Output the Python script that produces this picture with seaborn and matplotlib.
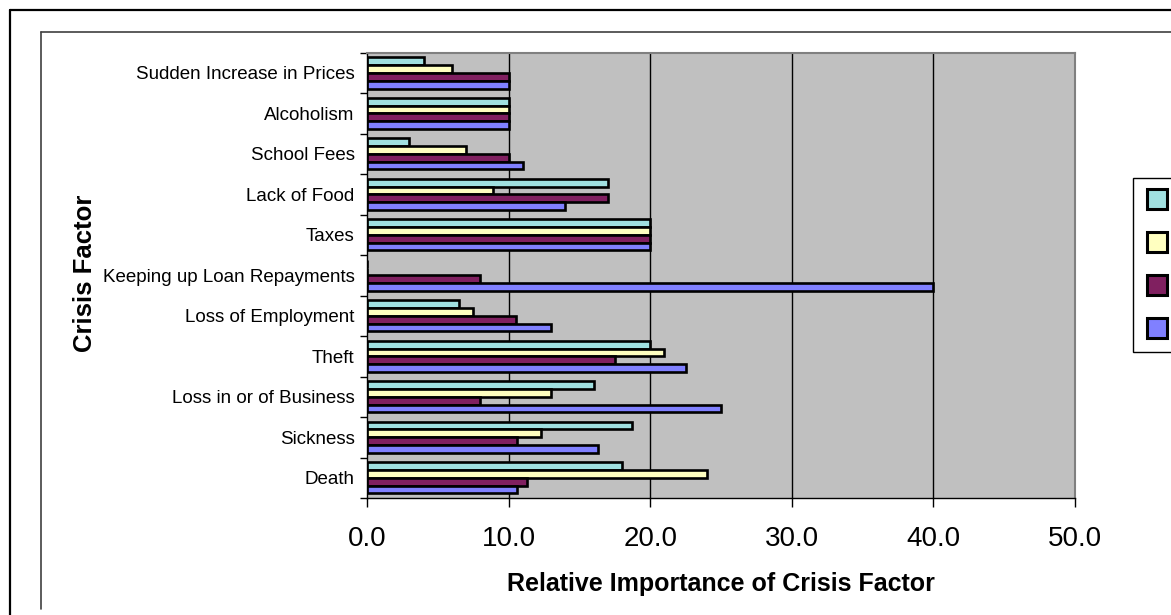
import matplotlib
matplotlib.use("Agg")
import matplotlib.pyplot as plt
from matplotlib.lines import Line2D
import numpy as np
import pandas as pd
import seaborn as sns

# Crisis factors, listed top to bottom
factors = [
    "Sudden Increase in Prices",
    "Alcoholism",
    "School Fees",
    "Lack of Food",
    "Taxes",
    "Keeping up Loan Repayments",
    "Loss of Employment",
    "Theft",
    "Loss in or of Business",
    "Sickness",
    "Death",
]

series_names = ["1998", "1999", "2000", "2001"]

# Relative importance of each factor, one list per series
series_a = [4.0, 10.0, 3.0, 17.0, 20.0, 0.0, 6.5, 20.0, 16.0, 18.7, 18.0]
series_b = [6.0, 10.0, 7.0, 8.9, 20.0, 0.0, 7.5, 21.0, 13.0, 12.3, 24.0]
series_c = [10.0, 10.0, 10.0, 17.0, 20.0, 8.0, 10.5, 17.5, 8.0, 10.6, 11.3]
series_d = [10.0, 10.0, 11.0, 14.0, 20.0, 40.0, 13.0, 22.5, 25.0, 16.3, 10.6]

x_ticks = [0, 10, 20, 30, 40, 50]
x_tick_labels = ["0.0", "10.0", "20.0", "30.0", "40.0", "50.0"]

colors = ["#A0E0E0", "#FFFFC0", "#802060", "#8080FF"]

rows = []
for name, vals in zip(series_names, [series_a, series_b, series_c, series_d]):
    for f, v in zip(factors, vals):
        rows.append({"Crisis Factor": f, "Series": name, "Value": v})
df = pd.DataFrame(rows)

sns.set_theme(style="white")
plt.rcParams["font.family"] = ["Liberation Sans", "DejaVu Sans"]

W, H = 1171, 615
fig = plt.figure(figsize=(W / 100, H / 100), dpi=100)
fig.patch.set_facecolor("white")

ax_left, ax_right = 367 / W, 1075 / W
ax_top, ax_bottom = 1 - 52.7 / H, 1 - 498 / H
ax = fig.add_axes([ax_left, ax_bottom, ax_right - ax_left, ax_top - ax_bottom])
ax.set_facecolor("#C0C0C0")

sns.barplot(
    data=df, y="Crisis Factor", x="Value", hue="Series",
    order=factors, hue_order=series_names, palette=colors,
    orient="h", width=0.77, saturation=1, linewidth=1.9,
    edgecolor="black", legend=False, ax=ax, zorder=3,
)

ax.set_xlim(0, 50)
ax.set_ylim(len(factors) - 0.5, -0.5)

# vertical gridlines
for xv in x_ticks[1:-1]:
    ax.axvline(xv, color="black", lw=1.0, zorder=1)

ax.set_xticks(x_ticks)
ax.set_xticklabels(x_tick_labels, fontsize=20, color="black")
ax.tick_params(axis="x", direction="out", length=6.5, width=1, color="black",
               pad=13.5, bottom=True)

ax.set_yticks(np.arange(len(factors)))
ax.set_yticklabels(factors, fontsize=13.5, color="black")
ax.set_yticks(np.arange(len(factors) + 1) - 0.5, minor=True)
ax.tick_params(axis="y", which="major", length=0, pad=9, left=False)
ax.tick_params(axis="y", which="minor", direction="out", length=5, width=1,
               color="black", left=True)

for side in ["left", "bottom"]:
    ax.spines[side].set_color("black")
    ax.spines[side].set_linewidth(1.0)
for side in ["top", "right"]:
    ax.spines[side].set_color("#808080")
    ax.spines[side].set_linewidth(1.5)
for s in ax.spines.values():
    s.set_visible(True)
    s.set_zorder(4)

ax.set_xlabel("Relative Importance of Crisis Factor", fontsize=18,
              fontweight="bold", color="black")
ax.xaxis.label.set_va("center")
ax.xaxis.set_label_coords(0.5, -0.193)
ax.set_ylabel("Crisis Factor", fontsize=18.5, fontweight="bold", color="black")
ax.yaxis.label.set_va("center")
ax.yaxis.set_label_coords((85 - 367) / 708, 0.505)

# legend with square swatches
handles = [
    Line2D([], [], linestyle="none", marker="s", markersize=14,
           markerfacecolor=c, markeredgecolor="black", markeredgewidth=2.2)
    for c in colors
]
leg = fig.legend(
    handles, series_names, loc="upper left",
    bbox_to_anchor=(1133 / W, 1 - 178 / H), bbox_transform=fig.transFigure,
    borderaxespad=0, fontsize=11, handlelength=1.3, handleheight=1.3,
    labelspacing=1.73, borderpad=0.93, handletextpad=0.6,
    frameon=True, fancybox=False, framealpha=1,
)
leg.get_frame().set_edgecolor("black")
leg.get_frame().set_linewidth(1.0)

# chart frames
fig.add_artist(Line2D([10 / W, 10 / W], [-0.1, 1 - 10 / H], transform=fig.transFigure,
                      color="black", lw=1.6))
fig.add_artist(Line2D([10 / W, 1.1], [1 - 10 / H, 1 - 10 / H], transform=fig.transFigure,
                      color="black", lw=1.6))
fig.add_artist(Line2D([41 / W, 41 / W], [1 - 609 / H, 1 - 32 / H], transform=fig.transFigure,
                      color="#404040", lw=1.2))
fig.add_artist(Line2D([41 / W, 1.1], [1 - 32 / H, 1 - 32 / H], transform=fig.transFigure,
                      color="#404040", lw=1.2))

fig.savefig("out.png", dpi=100)
